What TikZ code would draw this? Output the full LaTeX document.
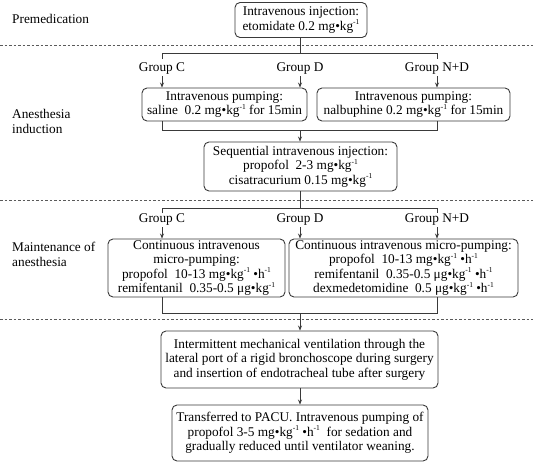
\documentclass[tikz,border=0pt]{standalone}
\usepackage{fontspec}
\setmainfont{Liberation Serif}
\usetikzlibrary{arrows.meta}
\newcommand{\negone}{\raisebox{0.42em}{\fontsize{7.5}{7.5}\selectfont -1}}
\definecolor{lc}{HTML}{3A3A3A}
\definecolor{dc}{HTML}{5A5A5A}
\tikzset{
  box/.style={draw=lc, rounded corners=5pt, line width=0.9pt, align=center, inner sep=0pt,
    font=\fontsize{13.3}{14.6}\selectfont},
  lab/.style={align=left, anchor=west, inner sep=0pt, font=\fontsize{13.3}{14.6}\selectfont},
  grp/.style={inner sep=1pt, font=\fontsize{13.3}{14.6}\selectfont},
  ln/.style={draw=lc, line width=0.7pt},
  arr/.style={draw=lc, line width=0.7pt, -{Stealth[length=5pt,width=4pt]}},
  sep/.style={draw=dc, line width=0.7pt, dash pattern=on 2.5pt off 2pt}
}
\begin{document}
\begin{tikzpicture}[x=1pt,y=-1pt]
\useasboundingbox (0,0) rectangle (533,463);

% separators
\coordinate (d1a) at (0,45);   \coordinate (d1b) at (533,45);
\coordinate (d2a) at (0,200);  \coordinate (d2b) at (533,200);
\coordinate (d3a) at (0,319);  \coordinate (d3b) at (533,319);
\draw[sep] (d1a) -- (d1b);
\draw[sep] (d2a) -- (d2b);
\draw[sep] (d3a) -- (d3b);

% left labels
\node[lab] (l1) at (12,19) {Premedication};
\node[lab] (l2) at (12,121.5) {Anesthesia\\induction};
\node[lab] (l3) at (12,254.5) {Maintenance of\\anesthesia};

% boxes
\node[box, minimum width=132, minimum height=35] (b1) at (301,20)
  {Intravenous injection:\\etomidate 0.2 mg•kg\negone};
\node[box, minimum width=165, minimum height=33] (b2) at (224.5,104.5)
  {Intravenous pumping:\\saline\ \ 0.2 mg•kg\negone\ for 15min};
\node[box, minimum width=193, minimum height=33] (b3) at (413.5,104.5)
  {Intravenous pumping:\\nalbuphine 0.2 mg•kg\negone\ for 15min};
\node[box, minimum width=193, minimum height=49] (b4) at (300.5,166.5)
  {Sequential intravenous injection:\\propofol\ \ 2-3 mg•kg\negone\\cisatracurium 0.15 mg•kg\negone};
\node[box, minimum width=177, minimum height=58] (b5) at (196.5,268)
  {Continuous intravenous\\micro-pumping:\\propofol\ \ 10-13 mg•kg\negone\ •h\negone\\remifentanil\ \ 0.35-0.5 μg•kg\negone};
\node[box, minimum width=229, minimum height=58] (b6) at (403.5,268)
  {Continuous intravenous micro-pumping:\\propofol\ \ 10-13 mg•kg\negone\ •h\negone\\remifentanil\ \ 0.35-0.5 μg•kg\negone\ •h\negone\\dexmedetomidine\ \ 0.5 μg•kg\negone\ •h\negone};
\node[box, minimum width=277, minimum height=57] (b7) at (299.5,359.5)
  {Intermittent mechanical ventilation through the\\lateral port of a rigid bronchoscope during surgery\\and insertion of endotracheal tube after surgery};
\node[box, minimum width=256, minimum height=56] (b8) at (300,433)
  {Transferred to PACU. Intravenous pumping of\\propofol 3-5 mg•kg\negone\ •h\negone\ \ for sedation and\\gradually reduced until ventilator weaning.};

% group labels, section 1
\node[grp] (g1c) at (162,69) {Group C};
\node[grp] (g1d) at (300,69) {Group D};
\node[grp] (g1n) at (437,69) {Group N+D};
% group labels, section 2
\node[grp] (g2c) at (162,220) {Group C};
\node[grp] (g2d) at (300,220) {Group D};
\node[grp] (g2n) at (437,220) {Group N+D};

% bracket 1
\coordinate (k1) at (300,53);
\coordinate (k1l) at (162,53); \coordinate (k1r) at (437,53);
\coordinate (t1l) at (162,59); \coordinate (t1r) at (437,59);
\draw[ln] (b1.south -| k1) -- (k1);
\draw[ln] (t1l) -- (k1l) -- (k1r) -- (t1r);
\draw[arr] (g1c.south) -- (g1c.south |- b2.north);
\draw[arr] (g1d.south) -- (g1d.south |- b2.north);
\draw[arr] (g1n.south) -- (g1n.south |- b3.north);

% merge 1
\coordinate (m1) at (300,130);
\coordinate (m1l) at (162,130); \coordinate (m1r) at (437,130);
\draw[ln] (m1l |- b2.south) -- (m1l) -- (m1r) -- (m1r |- b3.south);
\draw[arr] (m1) -- (m1 |- b4.north);

% bracket 2
\coordinate (k2) at (300,208);
\coordinate (k2l) at (162,208); \coordinate (k2r) at (437,208);
\coordinate (t2l) at (162,213); \coordinate (t2r) at (437,213);
\draw[ln] (b4.south -| k2) -- (k2);
\draw[ln] (t2l) -- (k2l) -- (k2r) -- (t2r);
\draw[arr] (g2c.south) -- (g2c.south |- b5.north);
\draw[arr] (g2d.south) -- (g2d.south |- b6.north);
\draw[arr] (g2n.south) -- (g2n.south |- b6.north);

% merge 2
\coordinate (m2) at (300,313);
\coordinate (m2l) at (162,313); \coordinate (m2r) at (437,313);
\draw[ln] (m2l |- b5.south) -- (m2l) -- (m2r) -- (m2r |- b6.south);
\draw[arr] (m2) -- (m2 |- b7.north);

% final
\draw[arr] (b7.south -| m2) -- (b8.north -| m2);
\end{tikzpicture}
\end{document}
